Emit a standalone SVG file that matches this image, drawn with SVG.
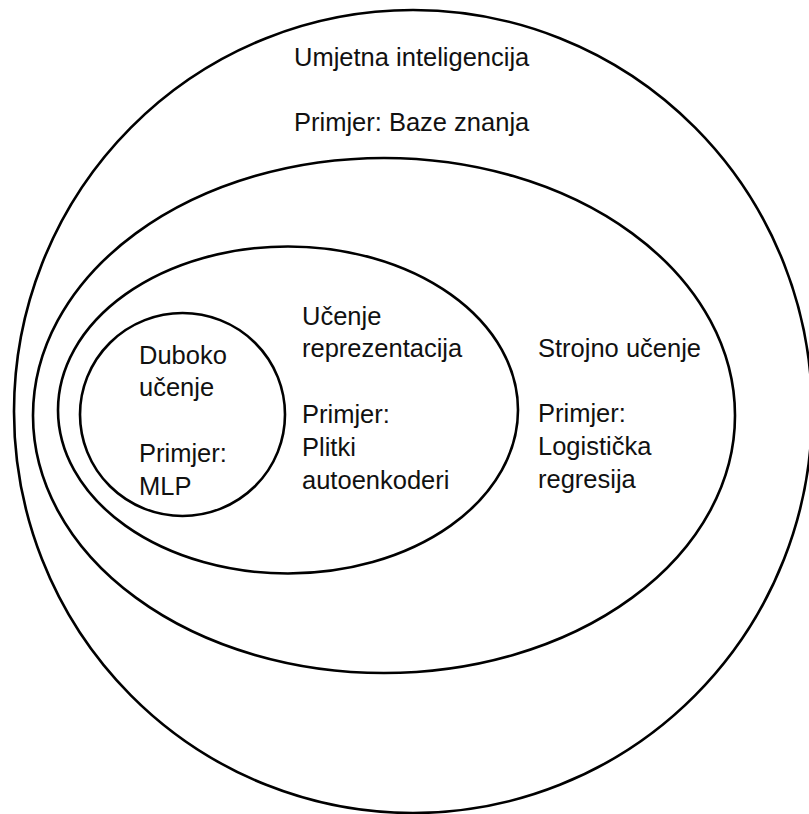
<svg xmlns="http://www.w3.org/2000/svg" width="809" height="814" viewBox="0 0 809 814">
  <style>
    .ring { fill: none; stroke: #000; stroke-width: 2.6; }
    .lbl { font-family: "Liberation Sans", Arial, sans-serif; font-size: 25.5px; fill: #111; }
  </style>
  <rect width="809" height="814" fill="#fff"/>
  <g id="connectors"></g>
  <!-- Umjetna inteligencija (outermost set) -->
  <g id="ai">
    <ellipse class="ring" cx="413" cy="411.5" rx="399" ry="401.5"/>
    <text class="lbl" x="294" y="66">Umjetna inteligencija</text>
    <text class="lbl" x="294" y="130.5">Primjer: Baze znanja</text>
  </g>
  <!-- Strojno učenje -->
  <g id="ml">
    <ellipse class="ring" cx="384" cy="415.5" rx="351" ry="257.5"/>
    <text class="lbl" x="538" y="357">Strojno učenje</text>
    <text class="lbl" x="538" y="422">Primjer:</text>
    <text class="lbl" x="538" y="455">Logistička</text>
    <text class="lbl" x="538" y="488">regresija</text>
  </g>
  <!-- Učenje reprezentacija -->
  <g id="repr">
    <ellipse class="ring" cx="288" cy="410" rx="230" ry="163.5"/>
    <text class="lbl" x="302" y="325">Učenje</text>
    <text class="lbl" x="302" y="357">reprezentacija</text>
    <text class="lbl" x="302" y="423">Primjer:</text>
    <text class="lbl" x="302" y="456">Plitki</text>
    <text class="lbl" x="302" y="489">autoenkoderi</text>
  </g>
  <!-- Duboko učenje (innermost set) -->
  <g id="dl">
    <ellipse class="ring" cx="182.5" cy="414.5" rx="102.5" ry="101.5"/>
    <text class="lbl" x="139" y="364">Duboko</text>
    <text class="lbl" x="139" y="396">učenje</text>
    <text class="lbl" x="139" y="462">Primjer:</text>
    <text class="lbl" x="139" y="495">MLP</text>
  </g>
</svg>
